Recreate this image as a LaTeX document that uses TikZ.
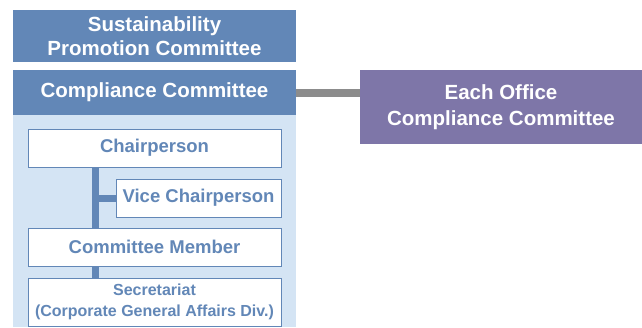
\documentclass[tikz,border=0pt]{standalone}
\usepackage{fontspec}
\setmainfont{Liberation Sans}
\definecolor{dblue}{HTML}{6287B7}
\definecolor{lblue}{HTML}{D4E4F4}
\definecolor{purp}{HTML}{7E76A8}
\definecolor{cgrey}{HTML}{8C8C8C}
\tikzset{
  darkbox/.style={fill=dblue, text=white, inner sep=0pt, align=center, font=\bfseries\fontsize{20.5}{24}\selectfont},
  whitebox/.style={fill=white, draw=dblue, line width=0.8pt, text=dblue, inner sep=0pt, align=center, font=\bfseries\fontsize{18.5}{22}\selectfont},
  bar/.style={draw=dblue, line width=7pt},
}
\begin{document}
\begin{tikzpicture}[x=1pt,y=-1pt]
\useasboundingbox (0,0) rectangle (642,327);
\fill[lblue] (13,115) rectangle (296,327);
\node[darkbox, minimum width=283pt, minimum height=52pt] (sus) at (154.5,36) {Sustainability\\Promotion Committee};
\node[darkbox, minimum width=283pt, minimum height=45pt] (comp) at (154.5,92.5) {Compliance Committee};
\node[darkbox, fill=purp, minimum width=282pt, minimum height=74pt, font=\bfseries\fontsize{20.5}{26}\selectfont] (office) at (501,107) {Each Office\\Compliance Committee};
\node[whitebox, minimum width=253pt, minimum height=38pt] (chair) at (154.5,148) {Chairperson};
\node[whitebox, minimum width=165pt, minimum height=38pt] (vice) at (198.5,198) {Vice Chairperson};
\node[whitebox, minimum width=253pt, minimum height=38pt] (cm) at (154.5,247) {Committee Member};
\node[whitebox, minimum width=253pt, minimum height=48pt, font=\bfseries\fontsize{16}{21}\selectfont] (sec) at (154.5,302) {Secretariat\\(Corporate General Affairs Div.)};
\coordinate (j) at (95.5,198);
\draw[bar] (chair.south -| j) -- (cm.north -| j);
\draw[bar] (j) -- (vice.west);
\draw[bar] (cm.south -| j) -- (sec.north -| j);
\draw[draw=cgrey, line width=8pt] (comp.east) -- (comp.east -| office.west);
\end{tikzpicture}
\end{document}
